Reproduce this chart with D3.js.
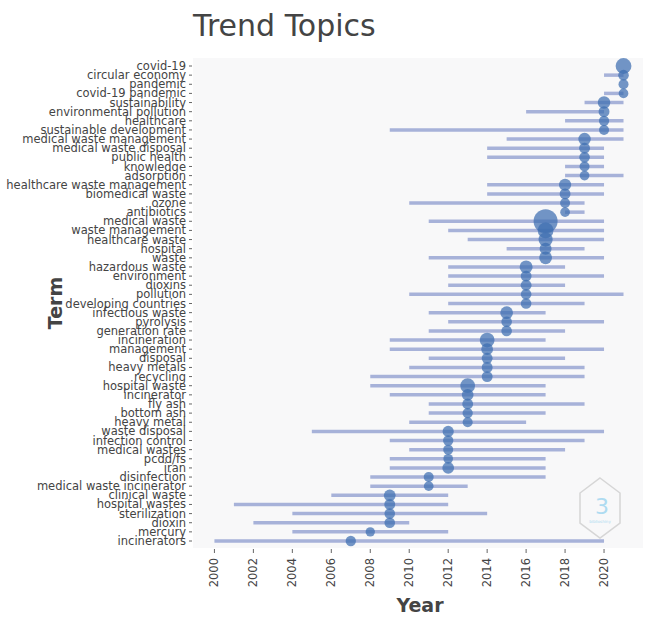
<!DOCTYPE html>
<html lang="en">
<head>
  <meta charset="UTF-8">
  <script src="https://d3js.org/d3.v7.min.js"></script>
  <style>
    body { margin: 0; background: #fff; }
    svg { display: block; }
    text { font-family: "DejaVu Sans", sans-serif; }
  </style>
</head>
<body>
  <div id="chart"></div>
  <script>
    // terms top to bottom
    const terms = ["covid-19", "circular economy", "pandemic", "covid-19 pandemic", "sustainability",
      "environmental pollution", "healthcare", "sustainable development", "medical waste management",
      "medical waste disposal", "public health", "knowledge", "adsorption", "healthcare waste management",
      "biomedical waste", "ozone", "antibiotics", "medical waste", "waste management", "healthcare waste",
      "hospital", "waste", "hazardous waste", "environment", "dioxins", "pollution", "developing countries",
      "infectious waste", "pyrolysis", "generation rate", "incineration", "management", "disposal",
      "heavy metals", "recycling", "hospital waste", "incinerator", "fly ash", "bottom ash", "heavy metal",
      "waste disposal", "infection control", "medical wastes", "pcdd/fs", "iran", "disinfection",
      "medical waste incinerator", "clinical waste", "hospital wastes", "sterilization", "dioxin",
      "mercury", "incinerators"];
    // first quartile year
    const yearQ1 = [2021, 2020, 2021, 2020, 2019, 2016, 2018, 2009, 2015, 2014, 2014, 2018, 2018, 2014,
      2014, 2010, 2018, 2011, 2012, 2013, 2015, 2011, 2012, 2012, 2012, 2010, 2012, 2011, 2012, 2011,
      2009, 2009, 2011, 2010, 2008, 2008, 2009, 2011, 2011, 2010, 2005, 2009, 2010, 2009, 2009, 2008,
      2008, 2006, 2001, 2004, 2002, 2004, 2000];
    // median year
    const yearMed = [2021, 2021, 2021, 2021, 2020, 2020, 2020, 2020, 2019, 2019, 2019, 2019, 2019, 2018,
      2018, 2018, 2018, 2017, 2017, 2017, 2017, 2017, 2016, 2016, 2016, 2016, 2016, 2015, 2015, 2015,
      2014, 2014, 2014, 2014, 2014, 2013, 2013, 2013, 2013, 2013, 2012, 2012, 2012, 2012, 2012, 2011,
      2011, 2009, 2009, 2009, 2009, 2008, 2007];
    // third quartile year
    const yearQ3 = [2021, 2021, 2021, 2021, 2021, 2020, 2021, 2021, 2021, 2020, 2020, 2020, 2021, 2020,
      2020, 2019, 2019, 2020, 2020, 2020, 2019, 2020, 2018, 2020, 2018, 2021, 2019, 2017, 2020, 2018,
      2017, 2020, 2018, 2019, 2019, 2017, 2017, 2019, 2017, 2016, 2020, 2019, 2018, 2017, 2017, 2017,
      2013, 2012, 2012, 2014, 2010, 2012, 2020];
    // term frequency
    const freq = [40, 18, 16, 15, 25, 19, 17, 16, 25, 19, 18, 16, 15, 24, 19, 16, 15, 92, 40, 32, 23, 26,
      27, 19, 19, 18, 18, 26, 18, 18, 35, 22, 19, 19, 19, 35, 22, 19, 17, 16, 20, 17, 16, 15, 22, 16, 15,
      22, 19, 18, 18, 14, 17];
    const yearTicks = d3.range(2000, 2021, 2);

    const rows = terms.map((t, i) => ({ term: t, q1: yearQ1[i], med: yearMed[i], q3: yearQ3[i], freq: freq[i] }));

    const W = 656, H = 618;
    const svg = d3.select('#chart').append('svg').attr('width', W).attr('height', H);

    const x = d3.scaleLinear().domain([1998.9, 2022]).range([193, 643]);
    const y = d3.scalePoint().domain(terms).range([66, 541]);
    const r = d3.scaleSqrt().domain([0, 100]).range([0, 12.5]);

    // plot background
    svg.append('rect')
      .attr('x', 193).attr('y', 58)
      .attr('width', 450).attr('height', 490)
      .attr('fill', '#f8f8f9');

    // title
    svg.append('text')
      .attr('x', 193).attr('y', 36)
      .attr('font-size', 30)
      .attr('fill', '#444')
      .text('Trend Topics');

    // Q1 - Q3 segments
    svg.selectAll('line.seg')
      .data(rows)
      .enter().append('line')
      .attr('class', 'seg')
      .attr('x1', d => x(d.q1)).attr('x2', d => x(d.q3))
      .attr('y1', d => y(d.term)).attr('y2', d => y(d.term))
      .attr('stroke', '#a7b2d9')
      .attr('stroke-width', 3.5);

    // median bubbles
    svg.selectAll('circle.med')
      .data(rows)
      .enter().append('circle')
      .attr('class', 'med')
      .attr('cx', d => x(d.med))
      .attr('cy', d => y(d.term))
      .attr('r', d => r(d.freq))
      .attr('fill', '#3d6eb0')
      .attr('fill-opacity', 0.72);

    // y axis labels
    const yAxis = svg.append('g');
    yAxis.selectAll('text')
      .data(terms)
      .enter().append('text')
      .attr('x', 186)
      .attr('y', d => y(d))
      .attr('dy', '0.35em')
      .attr('text-anchor', 'end')
      .attr('font-size', 11.5)
      .attr('fill', '#444')
      .text(d => d);
    yAxis.selectAll('line')
      .data(terms)
      .enter().append('line')
      .attr('x1', 189).attr('x2', 192)
      .attr('y1', d => y(d)).attr('y2', d => y(d))
      .attr('stroke', '#666');

    // x axis
    const xAxis = svg.append('g');
    xAxis.selectAll('line')
      .data(yearTicks)
      .enter().append('line')
      .attr('x1', d => x(d)).attr('x2', d => x(d))
      .attr('y1', 549).attr('y2', 553)
      .attr('stroke', '#666');
    xAxis.selectAll('text')
      .data(yearTicks)
      .enter().append('text')
      .attr('transform', d => `translate(${x(d)},558) rotate(-90)`)
      .attr('dy', '0.35em')
      .attr('text-anchor', 'end')
      .attr('font-size', 11.5)
      .attr('fill', '#444')
      .text(d => d);

    // axis titles
    svg.append('text')
      .attr('x', 420).attr('y', 612)
      .attr('text-anchor', 'middle')
      .attr('font-size', 19)
      .attr('font-weight', 'bold')
      .attr('fill', '#444')
      .text('Year');
    svg.append('text')
      .attr('transform', 'translate(62,303) rotate(-90)')
      .attr('text-anchor', 'middle')
      .attr('font-size', 19)
      .attr('font-weight', 'bold')
      .attr('fill', '#444')
      .text('Term');

    // watermark logo
    const logo = svg.append('g').attr('transform', 'translate(600,508)').attr('opacity', 0.7);
    logo.append('path')
      .attr('d', 'M0,-30 L20,-15 L20,15 L0,30 L-20,15 L-20,-15 Z')
      .attr('fill', 'none')
      .attr('stroke', '#c8c8c8')
      .attr('stroke-width', 1.5);
    logo.append('text')
      .attr('x', 2).attr('y', 6)
      .attr('text-anchor', 'middle')
      .attr('font-size', 22)
      .attr('fill', '#8fd0ef')
      .text('3');
    logo.append('text')
      .attr('x', 0).attr('y', 15)
      .attr('text-anchor', 'middle')
      .attr('font-size', 4)
      .attr('fill', '#8fd0ef')
      .text('biblioshiny');
  </script>
</body>
</html>
